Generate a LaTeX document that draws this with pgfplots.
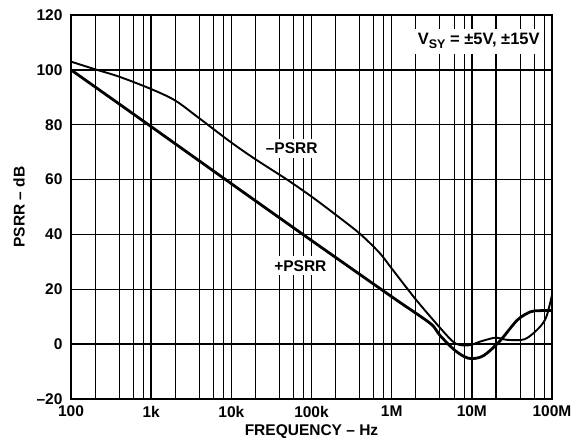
\documentclass[border=0pt]{standalone}
\usepackage{fontspec}
\setmainfont{Liberation Sans}
\usepackage{pgfplots}
\pgfplotsset{compat=1.18}

% +PSRR (heavy trace)
\pgfplotstableread{
f      db
100    100
1000   79.3
10000  58.5
100000 37.8
1e6    17.3
2e6    11.3
3.2e6  7
4e6    3.2
6e6    -2
8e6    -4.5
1e7    -5.3
1.4e7  -4.2
2.2e7  0.9
3.7e7  8.8
5.4e7  11.8
7e7    12.2
1e8    12.3
}\pospsrr

% -PSRR (light trace)
\pgfplotstableread{
f      db
100    103.0
200    100.2
400    97.5
1000   93.0
2000   88.8
4000   82.3
10000  73.5
20000  67.4
50000  59.9
100000 53.8
200000 47.2
400000 40.3
700000 33.4
1e6    27.6
2e6    16.3
4e6    6.0
6e6    0.6
7.94e6 -0.5
1e7    -0.2
1.26e7 0.9
2e7    2.4
2.69e7 1.6
4.57e7 1.8
6.92e7 6.0
8.51e7 10
1e8    17.9
}\negpsrr

\begin{document}
\begin{tikzpicture}
\begin{axis}[
  xmode=log,
  scale only axis,
  width=481bp, height=384bp,
  xmin=100, xmax=1e8,
  ymin=-20, ymax=120,
  xtick={1e2,1e3,1e4,1e5,1e6,1e7,1e8},
  xticklabels={100,1k,10k,100k,1M,10M,100M},
  minor xtick={200,400,600,800,2000,4000,6000,8000,20000,40000,60000,80000,
    2e5,4e5,6e5,8e5,2e6,4e6,6e6,8e6,2e7,4e7,6e7,8e7},
  ytick={-20,0,20,40,60,80,100,120},
  yticklabels={–20,0,20,40,60,80,100,120},
  grid=both,
  major grid style={black, line width=1.5bp},
  minor grid style={black, line width=1.1bp},
  major tick length=0pt, minor tick length=0pt,
  axis line style={black, line width=2.6bp},
  tick label style={font=\bfseries\fontsize{15.5bp}{18bp}\selectfont},
  xticklabel style={inner xsep=0pt},
  xticklabel shift=3.5bp,
  yticklabel shift=5bp,
  label style={font=\bfseries\fontsize{15.5bp}{18bp}\selectfont},
  xlabel={FREQUENCY – Hz},
  ylabel={PSRR – dB},
  xlabel style={at={(axis description cs:0.5,-0.086)}, anchor=center},
  ylabel style={at={(axis description cs:-0.108,0.5)}, anchor=center},
]
\addplot[black, line width=2.8bp, smooth, tension=0.5] table[x=f, y=db] {\pospsrr};
\addplot[black, line width=1.9bp, smooth, tension=0.5] table[x=f, y=db] {\negpsrr};

\node[fill=white, inner sep=4bp, font=\bfseries\fontsize{15.5bp}{18bp}\selectfont]
  at (axis cs:5.66e4,71.3) {–PSRR};
\node[fill=white, inner sep=4bp, font=\bfseries\fontsize{15.5bp}{18bp}\selectfont]
  at (axis cs:7.26e4,28.6) {+PSRR};
\node[fill=white, anchor=east, inner xsep=3bp, inner ysep=5bp,
  font=\bfseries\fontsize{16.5bp}{19bp}\selectfont]
  at (rel axis cs:0.981,0.932)
  {V\raisebox{-0.4ex}{\fontsize{12.5bp}{14bp}\selectfont SY} = ±5V, ±15V};
\end{axis}
\path ([shift={(-71bp,-47bp)}]current axis.south west)
  rectangle ([shift={(20bp,15bp)}]current axis.north east);
\end{tikzpicture}
\end{document}
